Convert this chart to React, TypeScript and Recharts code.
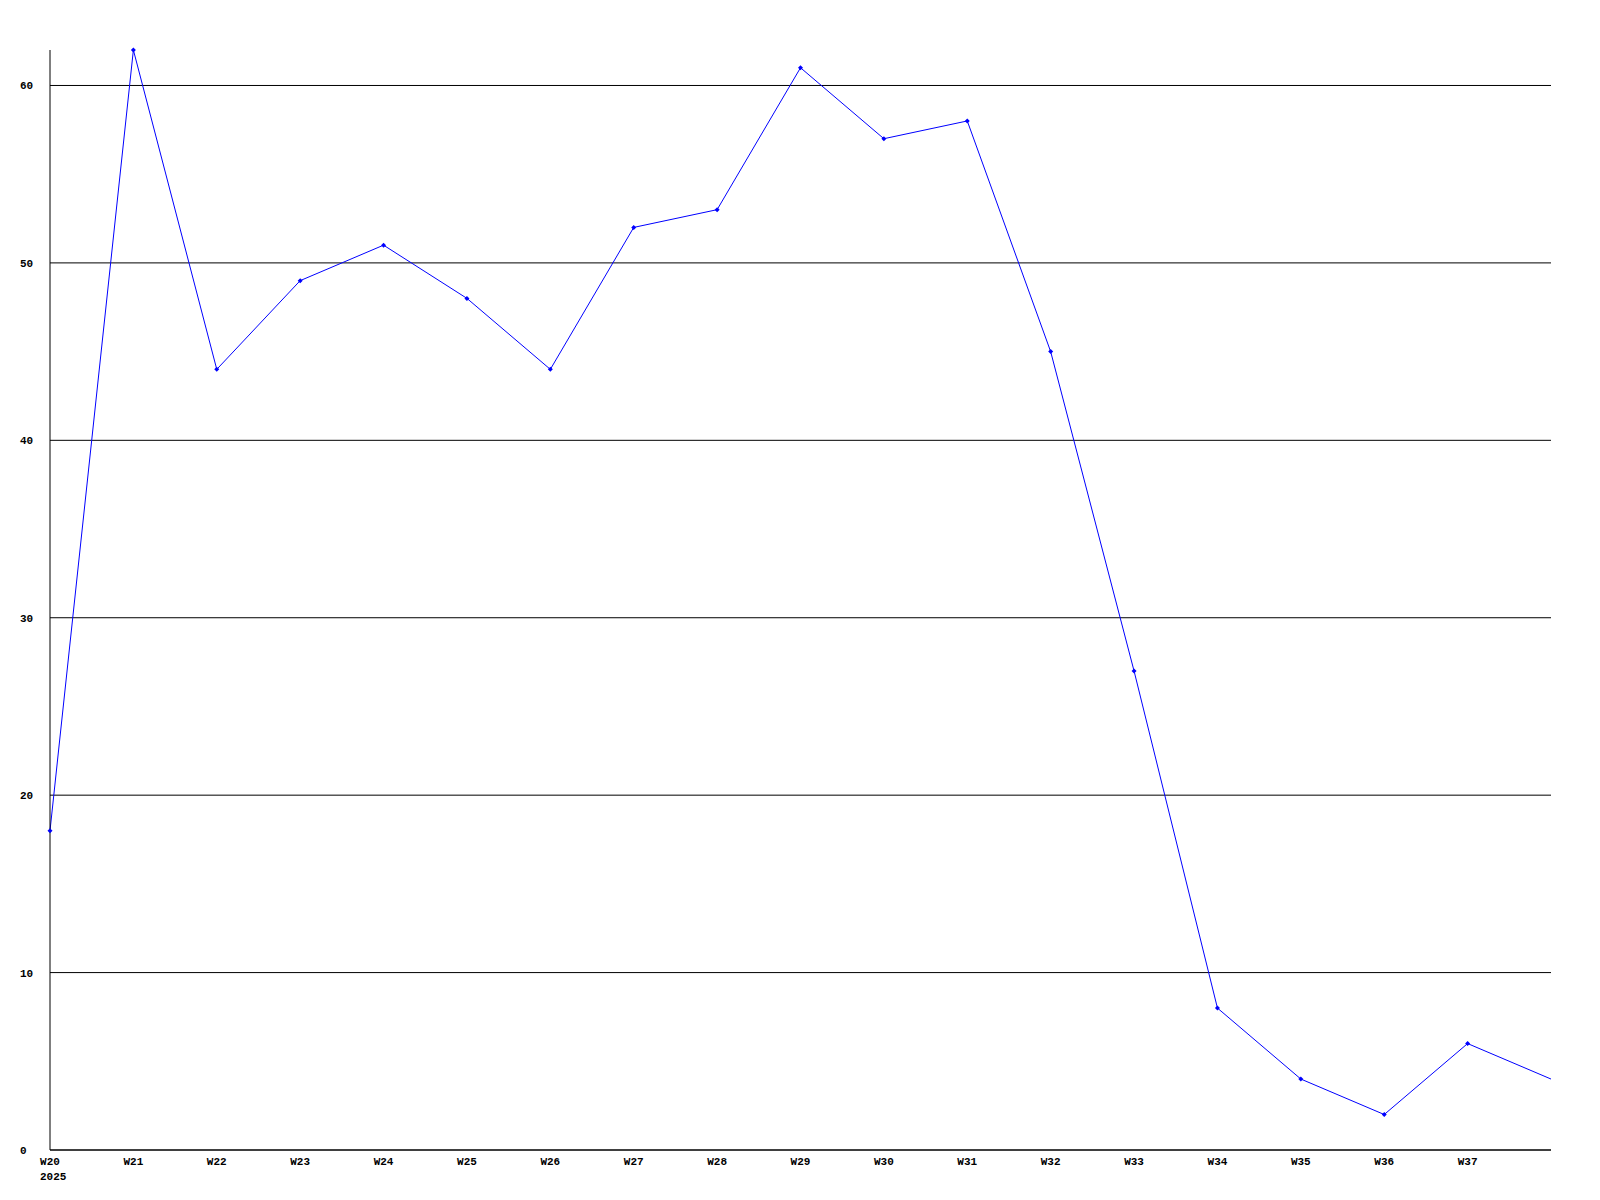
import { LineChart, Line, XAxis, YAxis, CartesianGrid } from 'recharts';

const weeks = [
  'W20', 'W21', 'W22', 'W23', 'W24', 'W25', 'W26', 'W27', 'W28', 'W29',
  'W30', 'W31', 'W32', 'W33', 'W34', 'W35', 'W36', 'W37', 'W38',
];
const counts = [18, 62, 44, 49, 51, 48, 44, 52, 53, 61, 57, 58, 45, 27, 8, 4, 2, 6, 4];
const yTicks = [0, 10, 20, 30, 40, 50, 60];
const hiddenLabels = ['W38'];
const yearLabel = '2025';

const data = weeks.map((week, i) => ({ week, count: counts[i] }));

const FONT = '"Liberation Mono", "DejaVu Sans Mono", monospace';

function WeekTick(props: any) {
  const { x, y, payload, index } = props;
  if (hiddenLabels.includes(payload.value)) return null;
  return (
    <g>
      <text x={x} y={y + 7} textAnchor="middle" fontFamily={FONT} fontSize={11} fontWeight="bold" fill="#000">
        {payload.value}
      </text>
      {index === 0 && (
        <text x={x - 10} y={y + 22} textAnchor="start" fontFamily={FONT} fontSize={11} fontWeight="bold" fill="#000">
          {yearLabel}
        </text>
      )}
    </g>
  );
}

function CountTick(props: any) {
  const { y, payload } = props;
  return (
    <text x={20} y={y + 4} textAnchor="start" fontFamily={FONT} fontSize={11} fontWeight="bold" fill="#000">
      {payload.value}
    </text>
  );
}

function PlusDot(props: any) {
  const { cx, cy, index } = props;
  if (cx == null || cy == null || index === counts.length - 1) return null;
  return (
    <path
      d={`M${cx - 2.5},${cy} L${cx},${cy - 2.5} L${cx + 2.5},${cy} L${cx},${cy + 2.5} Z`}
      fill="#0000ff"
      stroke="none"
    />
  );
}

export default function App() {
  return (
    <div style={{ position: 'absolute', left: 0, top: 0, background: '#fff' }}>
      <LineChart width={1600} height={1200} data={data} margin={{ top: 50, right: 49, bottom: 0, left: 0 }}>
        <CartesianGrid vertical={false} horizontalValues={yTicks} stroke="#000" strokeOpacity={1} />
        <XAxis
          dataKey="week"
          interval={0}
          height={50}
          tickLine={false}
          axisLine={{ stroke: '#000' }}
          tick={<WeekTick />}
        />
        <YAxis
          width={50}
          domain={[0, 62]}
          ticks={yTicks}
          tickLine={false}
          axisLine={{ stroke: '#000' }}
          tick={<CountTick />}
        />
        <Line
          type="linear"
          dataKey="count"
          stroke="#0000ff"
          strokeWidth={1}
          dot={<PlusDot />}
          activeDot={false}
          isAnimationActive={false}
        />
      </LineChart>
    </div>
  );
}
